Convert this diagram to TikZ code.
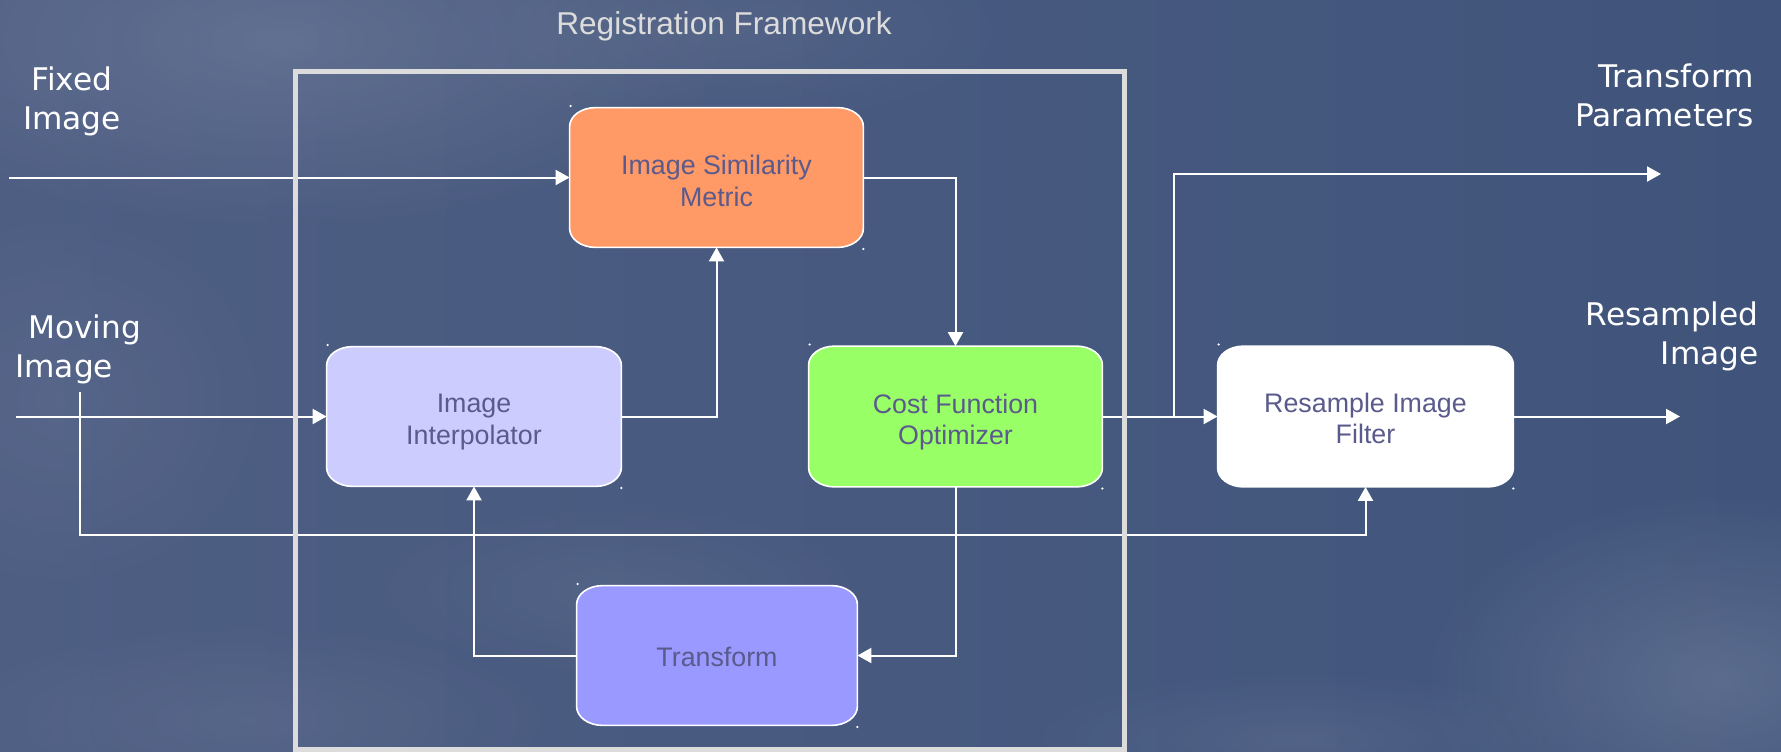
\documentclass[tikz,border=0pt]{standalone}
\usepackage{fontspec}
\setmainfont{Liberation Sans}
\newfontfamily\dejavu{DejaVu Sans}
\usetikzlibrary{arrows.meta,fadings}

\definecolor{bgleft}{RGB}{78,94,131}
\definecolor{bgright}{RGB}{64,84,123}
\definecolor{framec}{RGB}{220,220,220}
\definecolor{boxtext}{RGB}{90,90,140}
\definecolor{ismc}{RGB}{255,153,102}
\definecolor{interpc}{RGB}{204,204,255}
\definecolor{costc}{RGB}{153,255,102}
\definecolor{trc}{RGB}{153,153,255}
\definecolor{resc}{RGB}{255,255,255}

\tikzfading[name=softglow, inner color=transparent!0, outer color=transparent!100]

\tikzset{
  blkshape/.style={rectangle, inner sep=0pt},
  blktext/.style={inner sep=0pt, align=center, text=boxtext,
    font=\fontsize{13.4pt}{15.8pt}\selectfont},
  conn/.style={draw=white, line width=1pt, -{Triangle[length=7pt,width=7.5pt]}},
  lbl/.style={text=white, inner sep=0pt, font=\dejavu\fontsize{15.6pt}{19.5pt}\selectfont},
  titlestyle/.style={text=framec, inner sep=0pt, font=\fontsize{15.8pt}{19pt}\selectfont},
  framebox/.style={draw=framec, line width=2.5pt, rectangle, inner sep=0pt},
  glow/.style={fill=white, path fading=softglow}
}

% elliptical rounded box on node #1 with fill #2
\newcommand\eshape[2]{%
  \filldraw[fill=#2, draw=white, line width=0.8pt]
    ([xshift=13pt]#1.north west) -- ([xshift=-13pt]#1.north east)
    arc[start angle=90, end angle=0, x radius=13pt, y radius=9.5pt]
    -- ([yshift=9.5pt]#1.south east)
    arc[start angle=0, end angle=-90, x radius=13pt, y radius=9.5pt]
    -- ([xshift=13pt]#1.south west)
    arc[start angle=270, end angle=180, x radius=13pt, y radius=9.5pt]
    -- ([yshift=-9.5pt]#1.north west)
    arc[start angle=180, end angle=90, x radius=13pt, y radius=9.5pt]
    -- cycle;
  \fill[white] ([xshift=0.5pt,yshift=0.8pt]#1.north west) circle (0.6pt);
  \fill[white] ([yshift=-0.8pt]#1.south east) circle (0.6pt);}

\begin{document}
\begin{tikzpicture}[x=0.5pt,y=-0.5pt]
\useasboundingbox (0,0) rectangle (1781,751);

% background (sky)
\shade[left color=bgleft, right color=bgright] (0,0) rectangle (1781,751);
\begin{scope}
\clip (0,0) rectangle (1781,751);
\fill[glow, opacity=0.12] (280,40) ellipse (460 and 190);
\fill[glow, opacity=0.06] (720,30) ellipse (300 and 100);
\fill[glow, opacity=0.05] (60,400) ellipse (220 and 200);
\fill[glow, opacity=0.14] (1720,680) ellipse (300 and 190);
\fill[glow, opacity=0.07] (1300,740) ellipse (280 and 70);
\fill[glow, opacity=0.06] (250,720) ellipse (320 and 100);
\fill[glow, opacity=0.05] (620,590) ellipse (260 and 90);
\end{scope}

% blocks
\node[blkshape, minimum width=146.5pt, minimum height=69.5pt] (ism) at (716.5,177.5) {};
\eshape{ism}{ismc}
\node[blktext] (ismtxt) at (716.5,181) {Image Similarity\\Metric};

\node[blkshape, minimum width=147pt, minimum height=69.5pt] (interp) at (474,416.5) {};
\eshape{interp}{interpc}
\node[blktext] (interptxt) at (474,422) {Image\\Interpolator};

\node[blkshape, minimum width=146.5pt, minimum height=70pt] (cost) at (955.5,416.5) {};
\eshape{cost}{costc}
\node[blktext] (costtxt) at (955.5,422) {Cost Function\\Optimizer};

\node[blkshape, minimum width=147.5pt, minimum height=70pt] (res) at (1365.5,416.5) {};
\eshape{res}{resc}
\node[blktext] (restxt) at (1365.5,418.5) {Resample Image\\Filter};

\node[blkshape, minimum width=140pt, minimum height=69.5pt] (tr) at (717,655.5) {};
\eshape{tr}{trc}
\node[blktext] (trtxt) at (717,657) {Transform};

% outer labels
\node[titlestyle] (title) at (724,26) {Registration Framework};
\node[lbl, align=center] (fixlbl) at (72,101.5) {Fixed\\Image};
\node[lbl, align=left, anchor=west] (movlbl) at (15,349) {\hspace*{6.5pt}Moving\\Image};
\node[lbl, align=right, anchor=east] (tplbl) at (1754,95.5) {Transform\\Parameters};
\node[lbl, align=right, anchor=east] (reslbl) at (1759,336) {Resampled\\Image};

% free ends
\coordinate (fixin) at (9,177.5);
\coordinate (movin) at (16,416.5);
\coordinate (movtop) at (80,392);
\coordinate (movbot) at (80,535);
\coordinate (br) at (1174,416.5);
\coordinate (tpout) at (1661,174);
\coordinate (resout) at (1680,416.5);

% connectors
\draw[conn] (fixin) -- (ism.west);
\draw[conn] (movin) -- (interp.west);
\draw[conn] (movtop) -- (movbot) -| (res.south);
\draw[conn] (interp.east) -| (ism.south);
\draw[conn] (ism.east) -| (cost.north);
\draw[conn] (cost.south) |- (tr.east);
\draw[conn] (tr.west) -| (interp.south);
\draw[conn] (cost.east) -- (res.west);
\draw[conn] (br) |- (tpout);
\draw[conn] (res.east) -- (resout);

% frame (drawn over the connectors)
\node[framebox, minimum width=414.5pt, minimum height=339pt] (frame) at (710,410) {};
\end{tikzpicture}
\end{document}
